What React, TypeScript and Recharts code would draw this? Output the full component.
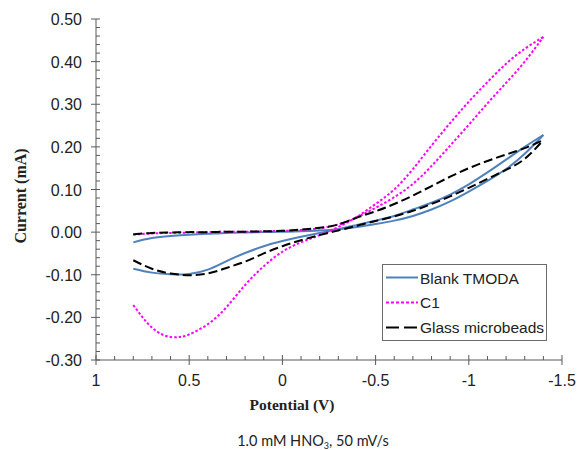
import React from "react";
import { Legend, Line, LineChart, XAxis, YAxis } from "recharts";

// potentials (V) shared by most branches, sweep 0.8 -> -1.4
const potential = [
  0.8, 0.7, 0.6, 0.5, 0.4, 0.3, 0.2, 0.1, 0, -0.1, -0.2, -0.3, -0.4, -0.5, -0.6,
  -0.7, -0.8, -0.9, -1.0, -1.1, -1.2, -1.3, -1.4,
];

// currents (mA)
const blankForward = [
  -0.024, -0.014, -0.009, -0.006, -0.004, -0.002, -0.001, 0.0, 0.001, 0.002,
  0.004, 0.007, 0.012, 0.019, 0.027, 0.038, 0.053, 0.072, 0.095, 0.12, 0.148,
  0.184, 0.228,
];
const blankReturn = [
  -0.086, -0.095, -0.099, -0.098, -0.088, -0.068, -0.049, -0.033, -0.021,
  -0.011, -0.002, 0.007, 0.017, 0.027, 0.038, 0.053, 0.069, 0.088, 0.112, 0.14,
  0.17, 0.2, 0.228,
];

const c1Forward = [
  -0.006, -0.003, -0.002, -0.001, 0.0, 0.001, 0.001, 0.002, 0.003, 0.005,
  0.009, 0.018, 0.035, 0.057, 0.082, 0.113, 0.155, 0.203, 0.252, 0.302, 0.35,
  0.4, 0.458,
];
const c1ReturnPotential = [
  0.8, 0.75, 0.7, 0.65, 0.6, 0.55, 0.5, 0.4, 0.3, 0.2, 0.1, 0, -0.1, -0.2, -0.3,
  -0.4, -0.5, -0.6, -0.7, -0.8, -0.9, -1.0, -1.1, -1.2, -1.3, -1.4,
];
const c1Return = [
  -0.171, -0.2, -0.224, -0.239, -0.246, -0.246, -0.24, -0.216, -0.176, -0.124,
  -0.08, -0.046, -0.024, -0.007, 0.012, 0.036, 0.066, 0.1, 0.148, 0.203, 0.256,
  0.306, 0.352, 0.395, 0.43, 0.458,
];

const glassForward = [
  -0.005, -0.002, -0.001, 0.0, 0.0, 0.001, 0.001, 0.002, 0.003, 0.006, 0.01,
  0.018, 0.034, 0.049, 0.066, 0.086, 0.108, 0.13, 0.15, 0.167, 0.182, 0.197,
  0.216,
];
const glassReturn = [
  -0.066, -0.086, -0.097, -0.101, -0.097, -0.084, -0.069, -0.05, -0.033,
  -0.019, -0.007, 0.004, 0.015, 0.026, 0.037, 0.05, 0.066, 0.084, 0.104, 0.125,
  0.146, 0.172, 0.216,
];

// ticks: majors every 0.5 V / 0.1 mA, minors every 0.1 V / 0.02 mA
const xTicks = Array.from({ length: 26 }, (_, k) => (10 - k) / 10);
const yTicks = Array.from({ length: 41 }, (_, k) => (k - 15) / 50);

const AXIS = "#595959";
const TEXT = "#222";

const pts = (v: number[], c: number[]) => v.map((x, k) => ({ v: x, i: c[k] }));

const series = [
  {
    name: "Blank TMODA",
    color: "#4F81BD",
    dash: undefined as string | undefined,
    legendDash: undefined as string | undefined,
    branches: [pts(potential, blankForward), pts(potential, blankReturn)],
  },
  {
    name: "C1",
    color: "#FF00FF",
    dash: "2.5 2",
    legendDash: "3 2",
    branches: [pts(potential, c1Forward), pts(c1ReturnPotential, c1Return)],
  },
  {
    name: "Glass microbeads",
    color: "#000000",
    dash: "9 4",
    legendDash: "13 5",
    branches: [pts(potential, glassForward), pts(potential, glassReturn)],
  },
];

const XTick = (props: any) => {
  const { x, y, payload } = props;
  const val = payload.value as number;
  const major = Math.abs(val * 2 - Math.round(val * 2)) < 1e-6;
  return (
    <g>
      <line x1={x} x2={x} y1={y - (major ? 5 : 4)} y2={major ? y + 5 : y} stroke={AXIS} />
      {major && (
        <text
          x={x}
          y={y + 26}
          textAnchor="middle"
          fontFamily="'Liberation Sans', Arial, sans-serif"
          fontSize={16}
          fill={TEXT}
        >
          {String(val)}
        </text>
      )}
    </g>
  );
};

const YTick = (props: any) => {
  const { x, y, payload } = props;
  const val = payload.value as number;
  const major = Math.round(val * 50) % 5 === 0;
  return (
    <g>
      <line x1={major ? x - 5 : x} x2={x + 4} y1={y} y2={y} stroke={AXIS} />
      {major && (
        <text
          x={x - 14}
          y={y + 6}
          textAnchor="end"
          fontFamily="'Liberation Sans', Arial, sans-serif"
          fontSize={16}
          fill={TEXT}
        >
          {val.toFixed(2)}
        </text>
      )}
    </g>
  );
};

const LegendBox = () => (
  <svg width={165} height={77} style={{ display: "block" }}>
    <rect x={0.5} y={0.5} width={164} height={76} fill="#fff" stroke="#6b6b6b" />
    {series.map((s, k) => (
      <g key={s.name}>
        <line
          x1={4}
          x2={36}
          y1={13.5 + k * 25}
          y2={13.5 + k * 25}
          stroke={s.color}
          strokeWidth={2}
          strokeDasharray={s.legendDash}
        />
        <text
          x={38}
          y={19.5 + k * 24.7}
          fontFamily="'Liberation Sans', Arial, sans-serif"
          fontSize={15.5}
          fill={TEXT}
        >
          {s.name}
        </text>
      </g>
    ))}
  </svg>
);

export default function App() {
  return (
    <div style={{ position: "absolute", left: 0, top: 0, width: 579, height: 450, background: "#fff" }}>
      <LineChart width={579} height={450} margin={{ top: 19, right: 17, bottom: 60, left: 36 }}>
        <XAxis
          type="number"
          dataKey="v"
          domain={[-1.5, 1]}
          reversed
          allowDataOverflow
          ticks={xTicks}
          interval={0}
          tick={<XTick />}
          tickLine={false}
          tickSize={0}
          tickMargin={0}
          height={30}
          stroke={AXIS}
        />
        <YAxis
          type="number"
          domain={[-0.3, 0.5]}
          allowDataOverflow
          ticks={yTicks}
          interval={0}
          tick={<YTick />}
          tickLine={false}
          tickSize={0}
          tickMargin={0}
          width={60}
          stroke={AXIS}
        />
        <Legend
          layout="vertical"
          align="center"
          verticalAlign="middle"
          wrapperStyle={{ position: "absolute", left: 382, top: 264, width: 165, height: 77 }}
          content={() => <LegendBox />}
        />
        {series.map((s) =>
          s.branches.map((data, b) => (
            <Line
              key={s.name + b}
              data={data}
              dataKey="i"
              name={s.name}
              type="natural"
              stroke={s.color}
              strokeWidth={2}
              strokeDasharray={s.dash}
              dot={false}
              activeDot={false}
              legendType={b === 0 ? "line" : "none"}
              isAnimationActive={false}
            />
          ))
        )}
      </LineChart>
      <div
        style={{
          position: "absolute",
          left: 21,
          top: 196,
          transform: "translate(-50%, -50%) rotate(-90deg)",
          whiteSpace: "nowrap",
          fontFamily: "'Liberation Serif', 'Times New Roman', serif",
          fontWeight: "bold",
          fontSize: 16,
          color: TEXT,
        }}
      >
        Current (mA)
      </div>
      <div
        style={{
          position: "absolute",
          left: 292,
          top: 405,
          transform: "translate(-50%, -50%)",
          whiteSpace: "nowrap",
          fontFamily: "'Liberation Serif', 'Times New Roman', serif",
          fontWeight: "bold",
          fontSize: 15.5,
          color: TEXT,
        }}
      >
        Potential (V)
      </div>
      <div
        style={{
          position: "absolute",
          left: 313,
          top: 441,
          transform: "translate(-50%, -50%)",
          whiteSpace: "nowrap",
          fontFamily: "Lato, 'Liberation Sans', sans-serif",
          fontSize: 14.5,
          color: TEXT,
        }}
      >
        1.0 mM HNO<sub style={{ fontSize: 9, verticalAlign: "-3px" }}>3</sub>, 50 mV/s
      </div>
    </div>
  );
}
